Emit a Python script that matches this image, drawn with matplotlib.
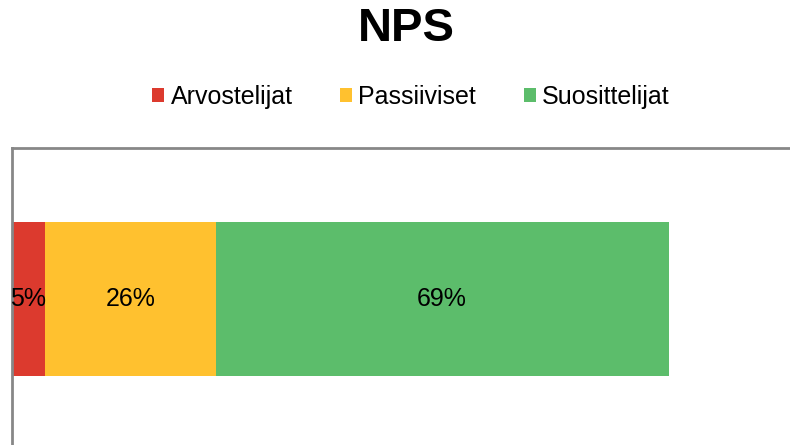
import matplotlib.pyplot as plt
from matplotlib.patches import Patch

plt.rcParams['font.family'] = ['Liberation Sans', 'DejaVu Sans']

# NPS breakdown
categories = ['Arvostelijat', 'Passiiviset', 'Suosittelijat']
shares = [0.05, 0.26, 0.69]
labels = ['5%', '26%', '69%']
colors = ['#DC3A2E', '#FFC12F', '#5CBD6B']

W, H = 790, 445
fig = plt.figure(figsize=(W / 100, H / 100), dpi=100)

# plot area runs past the right and bottom edge of the image
ax = fig.add_axes([12 / W, (H - 450) / H, 788 / W, 302 / H])
ax.set_xlim(0, 1.2)
ax.set_ylim(-0.5, 0.5)

left = 0
for cat, val, lab, col in zip(categories, shares, labels, colors):
    ax.barh(0, val, left=left, height=0.51, color=col, label=cat)
    ax.text(left + val / 2, 0, lab, ha='center', va='center', fontsize=18, color='black')
    left += val

ax.set_xticks([])
ax.set_yticks([])
for s in ax.spines.values():
    s.set_color('#878787')
    s.set_linewidth(2)

fig.text(406 / W, 1 - 29 / H, 'NPS', ha='center', va='center', fontsize=34, fontweight='bold')

handles = [Patch(facecolor=c, edgecolor='none') for c in colors]
fig.legend(handles, categories, loc='center', bbox_to_anchor=(411 / W, 1 - 97 / H), ncol=3,
           frameon=False, fontsize=18, handlelength=0.48, handleheight=0.48,
           handletextpad=0.25, columnspacing=1.9)

fig.savefig('out.png', dpi=100)
